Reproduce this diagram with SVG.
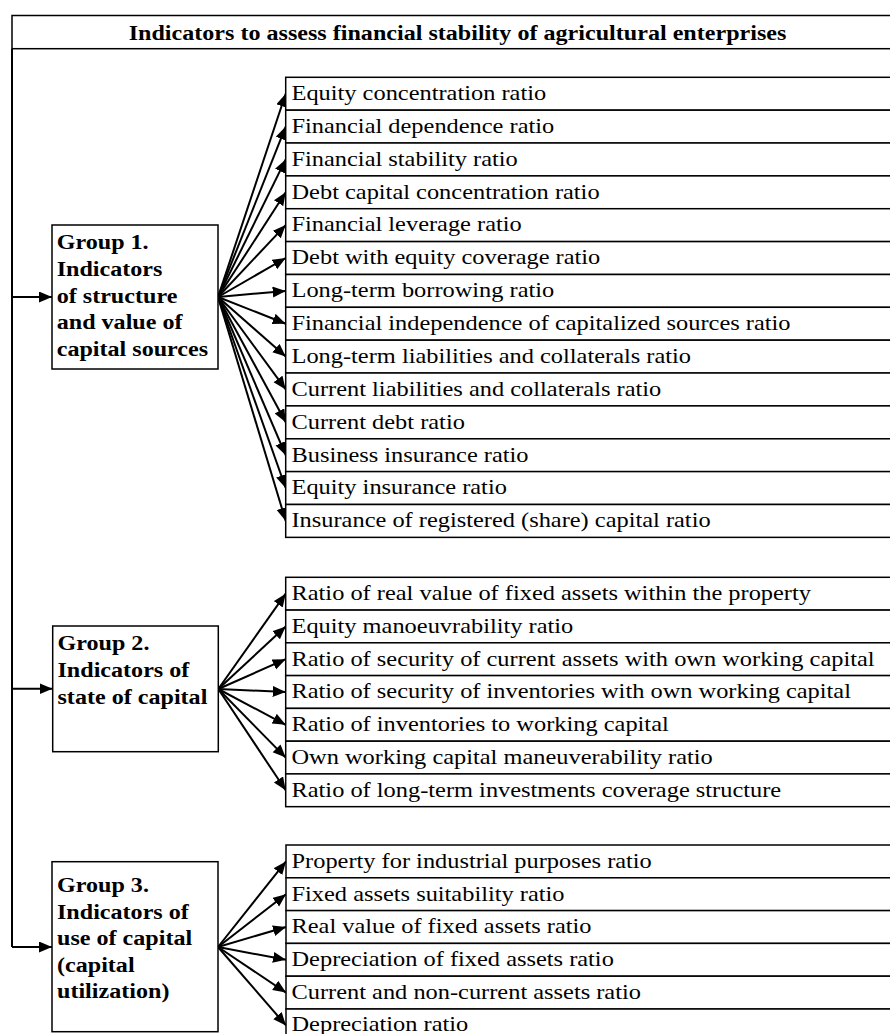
<svg xmlns="http://www.w3.org/2000/svg" width="890" height="1034" viewBox="0 0 890 1034">
<style>
  .bx{fill:#fff;stroke:#000;stroke-width:1.5}
  .it{font-family:"Liberation Serif","Times New Roman",serif;font-size:20px;fill:#000}
  .gl{font-family:"Liberation Serif","Times New Roman",serif;font-size:20.6px;font-weight:bold;fill:#000}
  .hd{font-family:"Liberation Serif","Times New Roman",serif;font-size:20.6px;font-weight:bold;fill:#000;text-anchor:middle}
  .cn{fill:none;stroke:#000;stroke-width:2;marker-end:url(#ah)}
  .ln{fill:none;stroke:#000;stroke-width:2}
</style>
<defs>
  <marker id="ah" markerUnits="userSpaceOnUse" markerWidth="14" markerHeight="12" refX="13" refY="5.5" orient="auto">
    <path d="M0,0 L13,5.5 L0,11 Z" fill="#000"/>
  </marker>
</defs>
<rect width="890" height="1034" fill="#fff"/>

<g id="header">
  <rect class="bx" x="12" y="15.5" width="900" height="33.2"/>
  <text class="hd" transform="translate(457.5 39.5) scale(1.17 1)">Indicators to assess financial stability of agricultural enterprises</text>
</g>

<g id="connectors">
  <path class="ln" d="M12,48.7 V947"/>
  <path class="cn" d="M12,297 H52"/>
  <path class="cn" d="M12,688.8 H52.5"/>
  <path class="cn" d="M12,947 H52"/>
  <!-- group 1 fan -->
  <path class="cn" d="M218,297 L285.7,93.7"/>
  <path class="cn" d="M218,297 L285.7,126.6"/>
  <path class="cn" d="M218,297 L285.7,159.4"/>
  <path class="cn" d="M218,297 L285.7,192.3"/>
  <path class="cn" d="M218,297 L285.7,225.1"/>
  <path class="cn" d="M218,297 L285.7,258"/>
  <path class="cn" d="M218,297 L285.7,290.9"/>
  <path class="cn" d="M218,297 L285.7,323.7"/>
  <path class="cn" d="M218,297 L285.7,356.6"/>
  <path class="cn" d="M218,297 L285.7,389.4"/>
  <path class="cn" d="M218,297 L285.7,422.3"/>
  <path class="cn" d="M218,297 L285.7,455.2"/>
  <path class="cn" d="M218,297 L285.7,488"/>
  <path class="cn" d="M218,297 L285.7,520.9"/>
  <!-- group 2 fan -->
  <path class="cn" d="M218.3,689 L285.7,593.7"/>
  <path class="cn" d="M218.3,689 L285.7,626.5"/>
  <path class="cn" d="M218.3,689 L285.7,659.2"/>
  <path class="cn" d="M218.3,689 L285.7,692"/>
  <path class="cn" d="M218.3,689 L285.7,724.8"/>
  <path class="cn" d="M218.3,689 L285.7,757.6"/>
  <path class="cn" d="M218.3,689 L285.7,790.3"/>
  <!-- group 3 fan -->
  <path class="cn" d="M218,947 L286,861.4"/>
  <path class="cn" d="M218,947 L286,894.2"/>
  <path class="cn" d="M218,947 L286,927"/>
  <path class="cn" d="M218,947 L286,959.8"/>
  <path class="cn" d="M218,947 L286,992.6"/>
  <path class="cn" d="M218,947 L286,1025.4"/>
</g>

<g id="group1">
  <rect class="bx" x="52" y="225" width="166" height="144"/>
  <text class="gl" transform="translate(56.7 249.3) scale(1.17 1)">Group 1.</text>
  <text class="gl" transform="translate(56.7 275.9) scale(1.17 1)">Indicators</text>
  <text class="gl" transform="translate(56.7 302.5) scale(1.17 1)">of structure</text>
  <text class="gl" transform="translate(56.7 329.1) scale(1.17 1)">and value of</text>
  <text class="gl" transform="translate(56.7 355.7) scale(1.17 1)">capital sources</text>
</g>

<g id="group1-items">
  <g id="g1-i1"><rect class="bx" x="285.7" y="77.3" width="620" height="32.86"/><text class="it" transform="translate(291.5 100) scale(1.22 1)">Equity concentration ratio</text></g>
  <g id="g1-i2"><rect class="bx" x="285.7" y="110.2" width="620" height="32.86"/><text class="it" transform="translate(291.5 132.9) scale(1.22 1)">Financial dependence ratio</text></g>
  <g id="g1-i3"><rect class="bx" x="285.7" y="143" width="620" height="32.86"/><text class="it" transform="translate(291.5 165.7) scale(1.22 1)">Financial stability ratio</text></g>
  <g id="g1-i4"><rect class="bx" x="285.7" y="175.9" width="620" height="32.86"/><text class="it" transform="translate(291.5 198.6) scale(1.22 1)">Debt capital concentration ratio</text></g>
  <g id="g1-i5"><rect class="bx" x="285.7" y="208.7" width="620" height="32.86"/><text class="it" transform="translate(291.5 231.4) scale(1.22 1)">Financial leverage ratio</text></g>
  <g id="g1-i6"><rect class="bx" x="285.7" y="241.6" width="620" height="32.86"/><text class="it" transform="translate(291.5 264.3) scale(1.22 1)">Debt with equity coverage ratio</text></g>
  <g id="g1-i7"><rect class="bx" x="285.7" y="274.5" width="620" height="32.86"/><text class="it" transform="translate(291.5 297.2) scale(1.22 1)">Long-term borrowing ratio</text></g>
  <g id="g1-i8"><rect class="bx" x="285.7" y="307.3" width="620" height="32.86"/><text class="it" transform="translate(291.5 330) scale(1.22 1)">Financial independence of capitalized sources ratio</text></g>
  <g id="g1-i9"><rect class="bx" x="285.7" y="340.2" width="620" height="32.86"/><text class="it" transform="translate(291.5 362.9) scale(1.22 1)">Long-term liabilities and collaterals ratio</text></g>
  <g id="g1-i10"><rect class="bx" x="285.7" y="373" width="620" height="32.86"/><text class="it" transform="translate(291.5 395.7) scale(1.22 1)">Current liabilities and collaterals ratio</text></g>
  <g id="g1-i11"><rect class="bx" x="285.7" y="405.9" width="620" height="32.86"/><text class="it" transform="translate(291.5 428.6) scale(1.22 1)">Current debt ratio</text></g>
  <g id="g1-i12"><rect class="bx" x="285.7" y="438.8" width="620" height="32.86"/><text class="it" transform="translate(291.5 461.5) scale(1.22 1)">Business insurance ratio</text></g>
  <g id="g1-i13"><rect class="bx" x="285.7" y="471.6" width="620" height="32.86"/><text class="it" transform="translate(291.5 494.3) scale(1.22 1)">Equity insurance ratio</text></g>
  <g id="g1-i14"><rect class="bx" x="285.7" y="504.5" width="620" height="32.86"/><text class="it" transform="translate(291.5 527.2) scale(1.22 1)">Insurance of registered (share) capital ratio</text></g>
</g>

<g id="group2">
  <rect class="bx" x="52.7" y="626" width="165.6" height="125.7"/>
  <text class="gl" transform="translate(57.5 650) scale(1.17 1)">Group 2.</text>
  <text class="gl" transform="translate(57.5 676.7) scale(1.17 1)">Indicators of</text>
  <text class="gl" transform="translate(57.5 703.5) scale(1.17 1)">state of capital</text>
</g>

<g id="group2-items">
  <g id="g2-i1"><rect class="bx" x="285.7" y="577.3" width="620" height="32.77"/><text class="it" transform="translate(291.5 600) scale(1.22 1)">Ratio of real value of fixed assets within the property</text></g>
  <g id="g2-i2"><rect class="bx" x="285.7" y="610.1" width="620" height="32.77"/><text class="it" transform="translate(291.5 632.8) scale(1.22 1)">Equity manoeuvrability ratio</text></g>
  <g id="g2-i3"><rect class="bx" x="285.7" y="642.8" width="620" height="32.77"/><text class="it" transform="translate(291.5 665.5) scale(1.22 1)">Ratio of security of current assets with own working capital</text></g>
  <g id="g2-i4"><rect class="bx" x="285.7" y="675.6" width="620" height="32.77"/><text class="it" transform="translate(291.5 698.3) scale(1.22 1)">Ratio of security of inventories with own working capital</text></g>
  <g id="g2-i5"><rect class="bx" x="285.7" y="708.4" width="620" height="32.77"/><text class="it" transform="translate(291.5 731.1) scale(1.22 1)">Ratio of inventories to working capital</text></g>
  <g id="g2-i6"><rect class="bx" x="285.7" y="741.2" width="620" height="32.77"/><text class="it" transform="translate(291.5 763.9) scale(1.22 1)">Own working capital maneuverability ratio</text></g>
  <g id="g2-i7"><rect class="bx" x="285.7" y="773.9" width="620" height="32.77"/><text class="it" transform="translate(291.5 796.6) scale(1.22 1)">Ratio of long-term investments coverage structure</text></g>
</g>

<g id="group3">
  <rect class="bx" x="52" y="861.7" width="166" height="170"/>
  <text class="gl" transform="translate(57 892.3) scale(1.17 1)">Group 3.</text>
  <text class="gl" transform="translate(57 918.8) scale(1.17 1)">Indicators of</text>
  <text class="gl" transform="translate(57 945.3) scale(1.17 1)">use of capital</text>
  <text class="gl" transform="translate(57 971.8) scale(1.17 1)">(capital</text>
  <text class="gl" transform="translate(57 998.3) scale(1.17 1)">utilization)</text>
</g>

<g id="group3-items">
  <g id="g3-i1"><rect class="bx" x="286" y="845" width="620" height="32.8"/><text class="it" transform="translate(291.5 867.7) scale(1.22 1)">Property for industrial purposes ratio</text></g>
  <g id="g3-i2"><rect class="bx" x="286" y="877.8" width="620" height="32.8"/><text class="it" transform="translate(291.5 900.5) scale(1.22 1)">Fixed assets suitability ratio</text></g>
  <g id="g3-i3"><rect class="bx" x="286" y="910.6" width="620" height="32.8"/><text class="it" transform="translate(291.5 933.3) scale(1.22 1)">Real value of fixed assets ratio</text></g>
  <g id="g3-i4"><rect class="bx" x="286" y="943.4" width="620" height="32.8"/><text class="it" transform="translate(291.5 966.1) scale(1.22 1)">Depreciation of fixed assets ratio</text></g>
  <g id="g3-i5"><rect class="bx" x="286" y="976.2" width="620" height="32.8"/><text class="it" transform="translate(291.5 998.9) scale(1.22 1)">Current and non-current assets ratio</text></g>
  <g id="g3-i6"><rect class="bx" x="286" y="1009" width="620" height="32.8"/><text class="it" transform="translate(291.5 1031.2) scale(1.22 1)">Depreciation ratio</text></g>
</g>
</svg>
